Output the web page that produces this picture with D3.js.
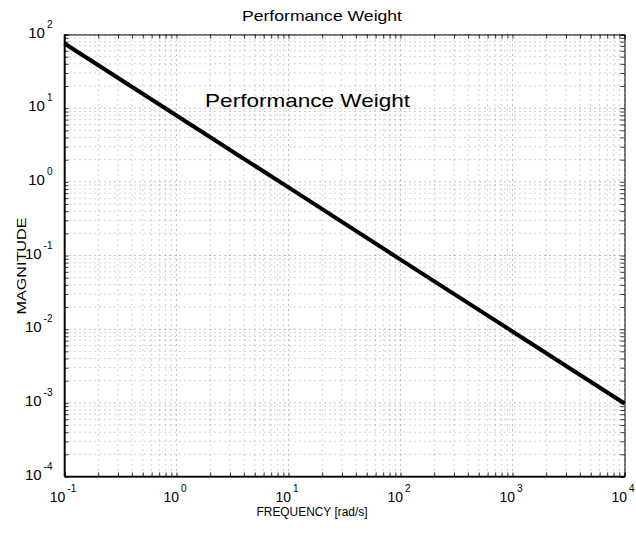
<!DOCTYPE html>
<html>
<head>
<meta charset="utf-8">
<script src="https://cdn.jsdelivr.net/npm/d3@7"></script>
<style>
  body { margin: 0; background: #fff; }
  text { font-family: "Liberation Sans", Arial, Helvetica, sans-serif; fill: #000; }
</style>
</head>
<body>
<svg id="grafico" width="636" height="533"></svg>
<script>
// valores
const frequencias = [0.1, 1, 10, 100, 1000, 10000];
const magnitudes = [75.5, 7.96, 0.84, 0.088, 0.0093, 0.00098];
const decadasX = [-1, 0, 1, 2, 3, 4];
const decadasY = [-4, -3, -2, -1, 0, 1, 2];
const titulo = "Performance Weight";
const rotuloCurva = "Performance Weight";
const rotuloX = "FREQUENCY [rad/s]";
const rotuloY = "MAGNITUDE";

const margem = {top: 34.5, right: 11.5, bottom: 56.5, left: 64.5};
const largura = 636 - margem.left - margem.right;
const altura = 533 - margem.top - margem.bottom;

const svg = d3.select("#grafico");
const g = svg.append("g").attr("transform", `translate(${margem.left},${margem.top})`);

const x = d3.scaleLog().domain([1e-1, 1e4]).range([0, largura]);
const y = d3.scaleLog().domain([1e-4, 1e2]).range([altura, 0]);

// todas as posicoes de grade (1..9 x 10^k)
function posicoes(decadas) {
    const lista = [];
    decadas.forEach((k, i) => {
        if (i == decadas.length - 1) { lista.push({v: Math.pow(10, k), maior: true}); return; }
        for (let m = 1; m <= 9; m++) lista.push({v: m * Math.pow(10, k), maior: m == 1});
    });
    return lista;
}
const gradeX = posicoes(decadasX);
const gradeY = posicoes(decadasY);

// grade pontilhada
g.append("g").selectAll("line").data(gradeX).enter().append("line")
    .attr("x1", d => x(d.v)).attr("x2", d => x(d.v))
    .attr("y1", 0).attr("y2", altura)
    .attr("stroke", "#000").attr("stroke-opacity", d => d.maior ? 0.6 : 0.45)
    .attr("stroke-width", 0.8).attr("stroke-dasharray", "1,4");
g.append("g").selectAll("line").data(gradeY).enter().append("line")
    .attr("y1", d => y(d.v)).attr("y2", d => y(d.v))
    .attr("x1", 0).attr("x2", largura)
    .attr("stroke", "#000").attr("stroke-opacity", d => d.maior ? 0.6 : 0.45)
    .attr("stroke-width", 0.8).attr("stroke-dasharray", "1,4");

// eixos com marcas para dentro
const eixoX = d3.axisBottom(x).tickValues(gradeX.map(d => d.v)).tickSize(-4).tickFormat("");
const eixoY = d3.axisLeft(y).tickValues(gradeY.map(d => d.v)).tickSize(-4).tickFormat("");
const eixoXtopo = d3.axisTop(x).tickValues(gradeX.map(d => d.v)).tickSize(-4).tickFormat("");
const eixoYdir = d3.axisRight(y).tickValues(gradeY.map(d => d.v)).tickSize(-4).tickFormat("");

g.append("g").attr("transform", `translate(0,${altura})`).call(eixoX);
g.append("g").call(eixoY);
g.append("g").call(eixoXtopo);
g.append("g").attr("transform", `translate(${largura},0)`).call(eixoYdir);
g.selectAll(".domain").attr("stroke", "#000").attr("stroke-width", 1);
g.selectAll(".tick line").attr("stroke", "#000").attr("stroke-width", 0.8);
// eixos esquerdo e inferior mais fortes
g.append("line").attr("x1", 0).attr("x2", 0).attr("y1", 0).attr("y2", altura)
    .attr("stroke", "#000").attr("stroke-width", 1.6);
g.append("line").attr("x1", 0).attr("x2", largura).attr("y1", altura).attr("y2", altura)
    .attr("stroke", "#000").attr("stroke-width", 1.6);

// rotulos 10^k
const rx = g.append("g").selectAll("text").data(decadasX).enter().append("text")
    .attr("x", d => x(Math.pow(10, d)) - 1.5).attr("y", altura + 25)
    .attr("text-anchor", "middle").style("font-size", "14px");
rx.append("tspan").text("10");
rx.append("tspan").attr("dx", 2).attr("dy", -10).style("font-size", "10px").text(d => d);

const ry = g.append("g").selectAll("text").data(decadasY).enter().append("text")
    .attr("x", -12).attr("y", d => y(Math.pow(10, d)) + 3)
    .attr("text-anchor", "end").style("font-size", "15px");
ry.append("tspan").text("10");
ry.append("tspan").attr("dx", 2).attr("dy", -10).style("font-size", "10px").text(d => d);

// curva
const linha = d3.line().x((d, i) => x(frequencias[i])).y(d => y(d));
g.append("path").datum(magnitudes).attr("d", linha)
    .attr("fill", "none").attr("stroke", "#000").attr("stroke-width", 4);

// anotacao
g.append("text").attr("x", x(1.8)).attr("y", y(10.3))
    .attr("textLength", 205).attr("lengthAdjust", "spacingAndGlyphs")
    .style("font-size", "18.5px").text(rotuloCurva);

// titulos
svg.append("text").attr("x", 322).attr("y", 21).attr("text-anchor", "middle")
    .attr("textLength", 160).attr("lengthAdjust", "spacingAndGlyphs")
    .style("font-size", "15px").text(titulo);
svg.append("text").attr("x", 312).attr("y", 516).attr("text-anchor", "middle")
    .attr("textLength", 111).attr("lengthAdjust", "spacingAndGlyphs")
    .style("font-size", "12px").text(rotuloX);
svg.append("text").attr("transform", "translate(26,266) rotate(-90)").attr("text-anchor", "middle")
    .attr("textLength", 97).attr("lengthAdjust", "spacingAndGlyphs")
    .style("font-size", "12px").text(rotuloY);
</script>
</body>
</html>
